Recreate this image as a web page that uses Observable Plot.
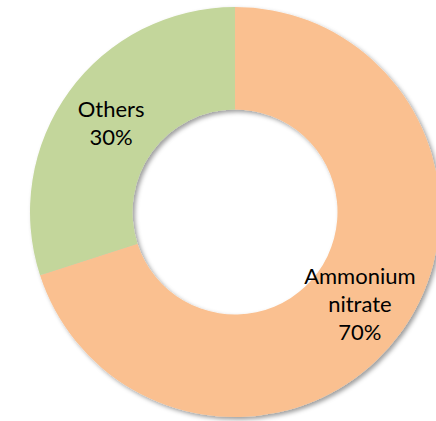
<!DOCTYPE html>
<html>
<head>
<meta charset="utf-8">
<script src="https://cdn.jsdelivr.net/npm/d3@7"></script>
<script src="https://cdn.jsdelivr.net/npm/@observablehq/plot@0.6"></script>
<style>
  html, body { margin: 0; padding: 0; background: #fff; }
  #chart svg { display: block; }
</style>
</head>
<body>
<div id="chart"></div>
<script>
// ---- data ----
const categories = ["Ammonium nitrate", "Others"];
const shares = [70, 30];
const labelNames = ["Ammonium\nnitrate", "Others"];
const colors = ["#FAC090", "#C3D69B"];

// ---- geometry (data units: outer radius = 1) ----
const outerR = 1;
const innerR = 0.5;

const rows = categories.map((c, i) => ({
  category: c,
  share: shares[i],
  label: `${labelNames[i]}\n${shares[i]}%`,
  color: colors[i]
}));

const pie = d3.pie().value(d => d.share).sort(null).startAngle(0).endAngle(2 * Math.PI);
const arcs = pie(rows);

// label positions at arc centroids (data units, y up)
const labelR = (outerR + innerR) / 2;
const labels = arcs.map(a => {
  const m = (a.startAngle + a.endAngle) / 2;
  return { x: labelR * Math.sin(m), y: labelR * Math.cos(m), text: a.data.label };
});

function donut(index, scales, values, dims) {
  const cx = scales.x(0), cy = scales.y(0);
  const ro = Math.abs(scales.x(outerR) - scales.x(0));
  const ri = Math.abs(scales.x(innerR) - scales.x(0));
  const g = d3.create("svg:g");
  const defs = g.append("defs");
  const f = defs.append("filter").attr("id", "shadow")
    .attr("x", "-20%").attr("y", "-20%").attr("width", "140%").attr("height", "140%");
  f.append("feDropShadow").attr("dx", 2.5).attr("dy", 2.5)
    .attr("stdDeviation", 2.2).attr("flood-color", "#000").attr("flood-opacity", 0.38);
  const arc = d3.arc().innerRadius(ri).outerRadius(ro);
  g.append("g").attr("filter", "url(#shadow)")
    .attr("transform", `translate(${cx},${cy})`)
    .selectAll("path").data(arcs).join("path")
    .attr("d", arc)
    .attr("fill", d => d.data.color);
  return g.node();
}

const chart = Plot.plot({
  width: 436,
  height: 421,
  margin: 0,
  x: { domain: [-235 / 205, 201 / 205], axis: null },
  y: { domain: [-209 / 205, 212 / 205], axis: null },
  marks: [
    donut,
    Plot.text(labels, {
      x: "x", y: "y", text: "text",
      fontSize: 22,
      lineHeight: 1.28,
      fill: "#000",
      fontFamily: "Lato, 'Open Sans', sans-serif",
      textAnchor: "middle",
      lineAnchor: "middle"
    })
  ]
});
document.getElementById("chart").appendChild(chart);
</script>
</body>
</html>
